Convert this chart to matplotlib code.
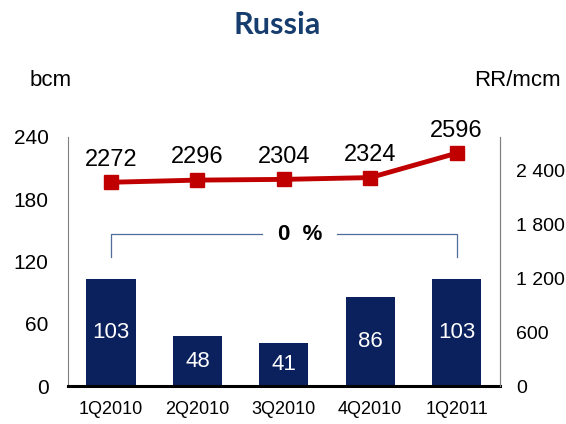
import matplotlib
matplotlib.use("Agg")
import matplotlib.pyplot as plt
from matplotlib.ticker import FuncFormatter

categories = ["1Q2010", "2Q2010", "3Q2010", "4Q2010", "1Q2011"]
volumes_bcm = [103, 48, 41, 86, 103]
price_rr_mcm = [2272, 2296, 2304, 2324, 2596]
change_label = "0  %"

FONT = ["Liberation Sans Narrow", "Liberation Sans", "DejaVu Sans"]
plt.rcParams["font.family"] = FONT

fig = plt.figure(figsize=(5.66, 4.24), dpi=100)
ax = fig.add_axes([0.120, 0.0896, 0.763, 0.588])
x = list(range(len(categories)))

bars = ax.bar(x, volumes_bcm, width=0.57, color="#0B215E", zorder=2)
for xi, v in zip(x, volumes_bcm):
    ax.text(xi, v / 2, str(v), ha="center", va="center", color="white", fontsize=16)

ax.set_xlim(-0.5, len(categories) - 0.5)
ax.set_ylim(0, 240)
ax.set_yticks([0, 60, 120, 180, 240])
ax.set_xticks(x)
ax.set_xticklabels(categories, fontsize=13)
ax.tick_params(axis="y", length=0, pad=14, labelsize=15)
ax.tick_params(axis="x", length=0, pad=11)
ax.spines["top"].set_visible(False)
ax.spines["left"].set_color("#808080")
ax.spines["right"].set_color("#808080")
ax.spines["bottom"].set_color("black")
ax.spines["bottom"].set_linewidth(2.2)

# bracket
bc = "#4F6E9A"
yb, yt = 124, 146
ax.plot([x[0], x[0], 1.75], [yb, yt, yt], color=bc, lw=0.9, zorder=1)
ax.plot([2.62, x[-1], x[-1]], [yt, yt, yb], color=bc, lw=0.9, zorder=1)
ax.text(2.19, yt, change_label, ha="center", va="center", fontsize=16, fontweight="bold")

ax2 = ax.twinx()
ax2.set_position(ax.get_position())
ax2.plot(x, price_rr_mcm, color="#C00000", lw=3.5, marker="s", markersize=10, zorder=3)
for xi, v in zip(x, price_rr_mcm):
    ax2.text(xi, v + 130, str(v), ha="center", va="bottom", fontsize=17)
ax2.set_ylim(0, 2780)
ax2.set_yticks([0, 600, 1200, 1800, 2400])
ax2.yaxis.set_major_formatter(FuncFormatter(lambda v, p: f"{int(v):,}".replace(",", " ")))
ax2.tick_params(axis="y", length=0, pad=12, labelsize=14)
for s in ["top", "left", "bottom"]:
    ax2.spines[s].set_visible(False)
ax2.spines["right"].set_color("#808080")

fig.text(0.49, 0.94, "Russia", ha="center", va="center", fontsize=22,
         color="#173D6E", fontweight="bold", family=["Lato", "DejaVu Sans"])
fig.text(0.09, 0.81, "bcm", ha="center", va="center", fontsize=16)
fig.text(0.915, 0.81, "RR/mcm", ha="center", va="center", fontsize=16)

fig.savefig("out.png", dpi=100)
